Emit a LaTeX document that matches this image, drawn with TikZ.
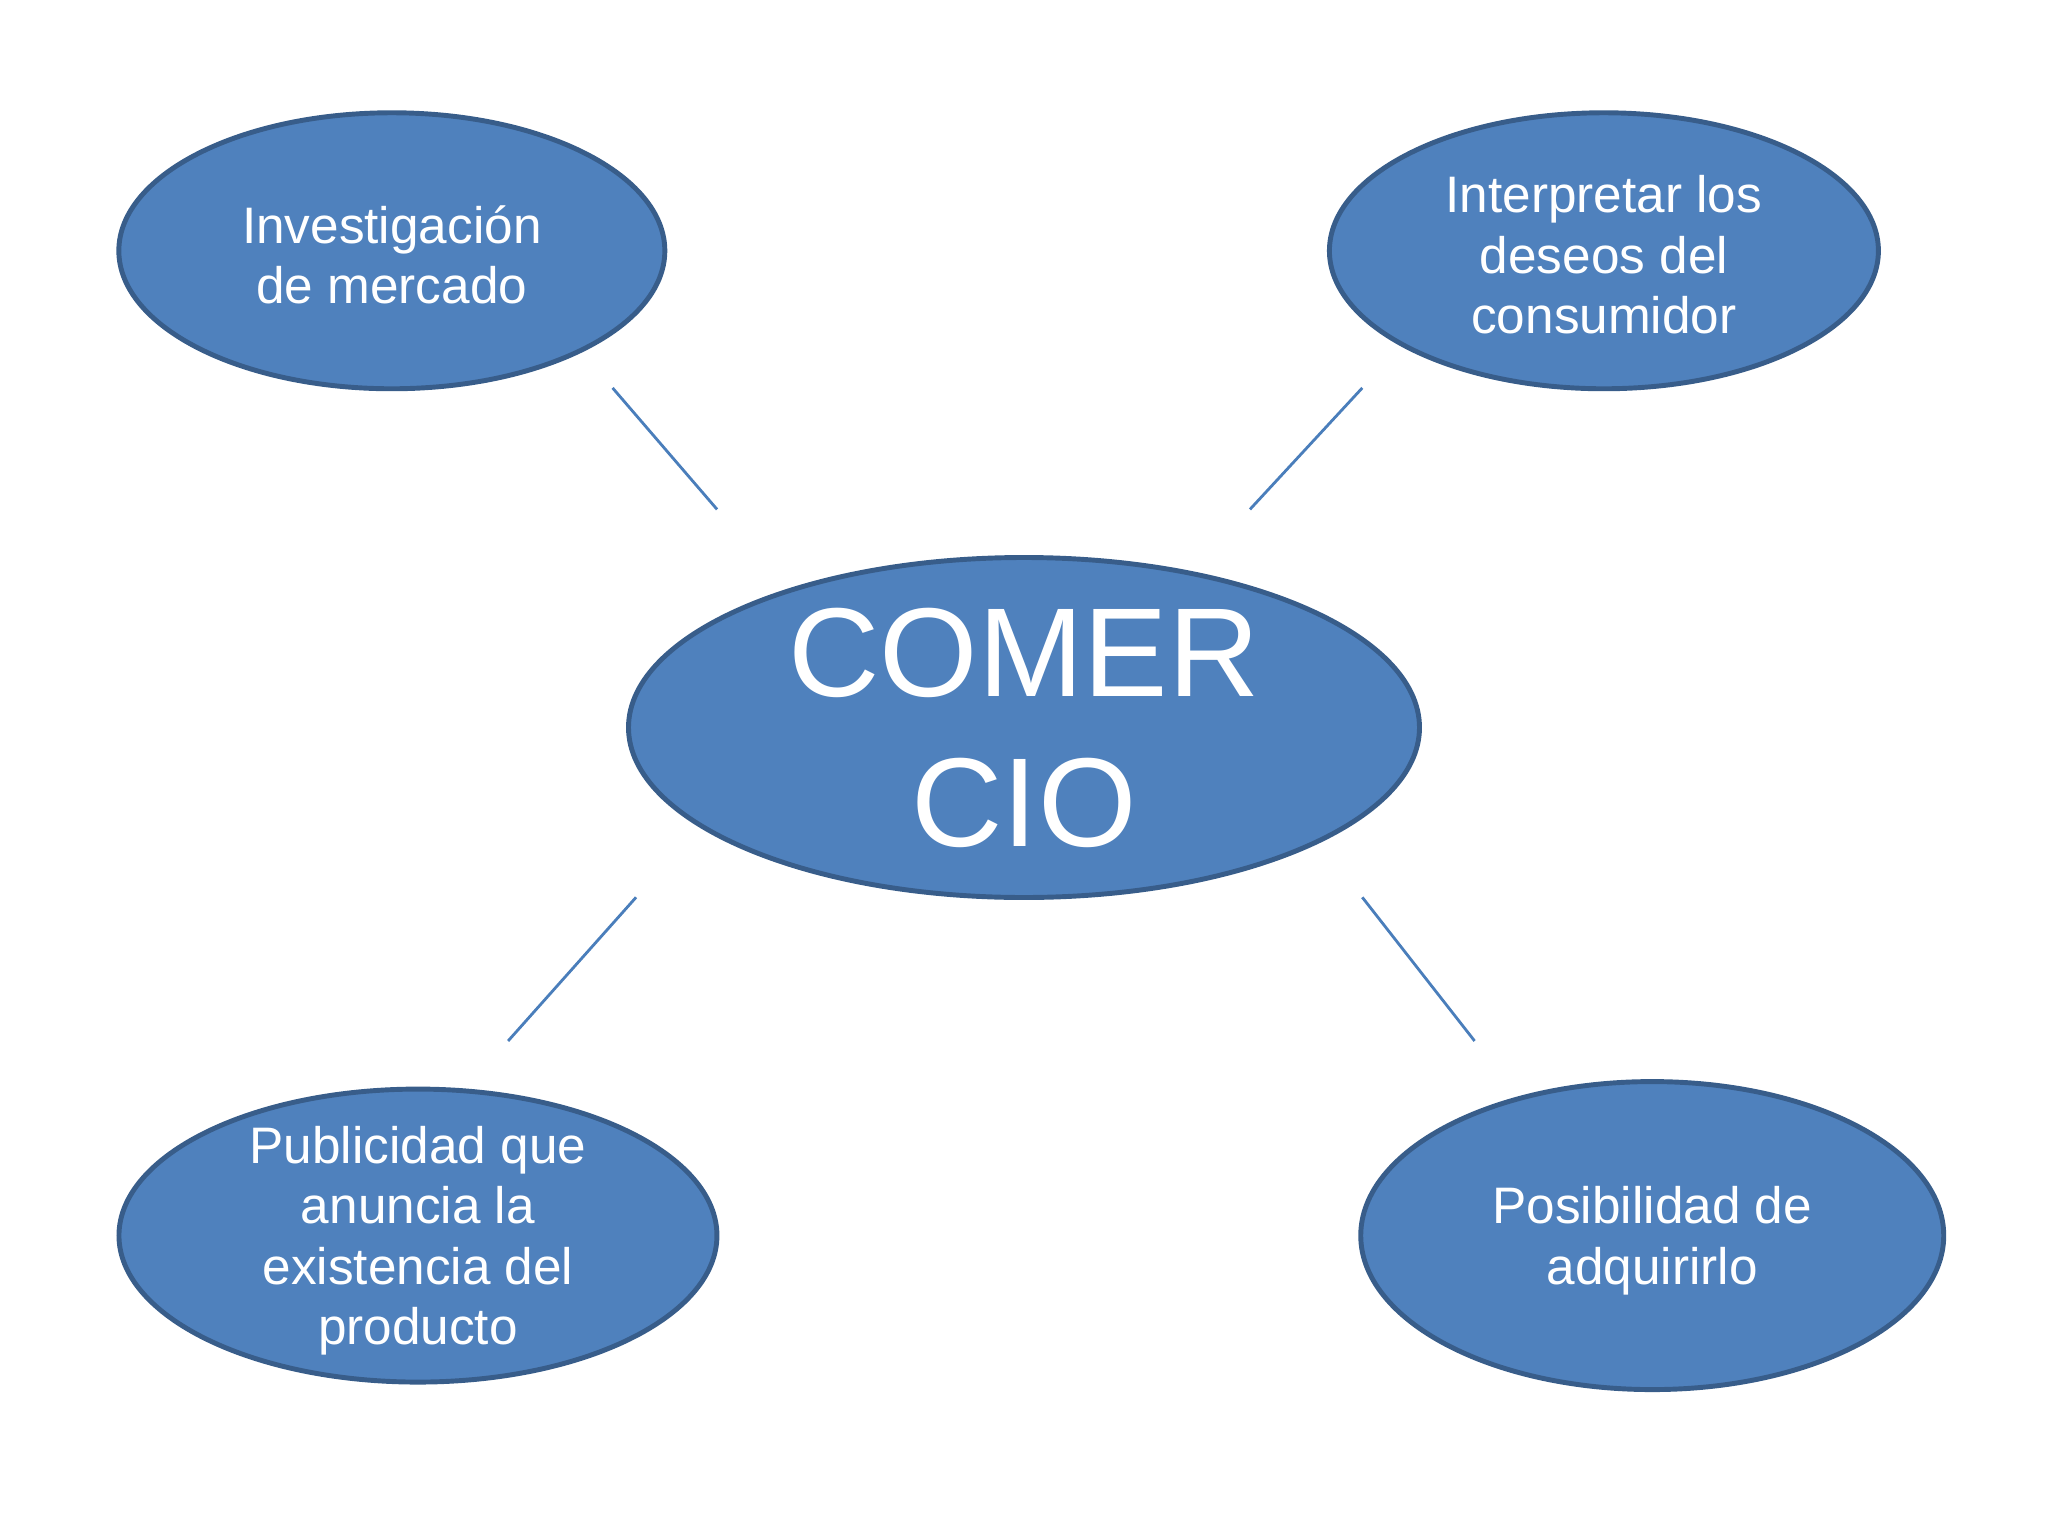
\documentclass[tikz,border=0pt]{standalone}
\usepackage{fontspec}
\setmainfont{Liberation Sans}
\usetikzlibrary{shapes.geometric}
\definecolor{bubblefill}{HTML}{4F81BD}
\definecolor{bubbleedge}{HTML}{385D8A}
\definecolor{linkblue}{HTML}{4A7EBB}

\begin{document}
\begin{tikzpicture}[x=0.013061cm,y=-0.013061cm,
  bubble/.style={ellipse,draw=bubbleedge,fill=bubblefill,line width=1.4pt,inner sep=0pt},
  bubbletext/.style={text=white,align=center,font=\fontsize{14.6}{17.2}\selectfont},
  bigtext/.style={text=white,align=center,font=\fontsize{36}{42.7}\selectfont},
  link/.style={draw=linkblue,line width=0.8pt}]
  \useasboundingbox (0,0) rectangle (1568,1176);
  % ovals
  \node[bubble,minimum width=5.46cm,minimum height=2.76cm] (inv) at (300,192) {};
  \node[bubble,minimum width=5.49cm,minimum height=2.76cm] (des) at (1228,192) {};
  \node[bubble,minimum width=7.91cm,minimum height=3.40cm] (com) at (784,557) {};
  \node[bubble,minimum width=5.98cm,minimum height=2.93cm] (pub) at (320,946) {};
  \node[bubble,minimum width=5.83cm,minimum height=3.08cm] (pos) at (1265,946) {};
  % labels
  \node[bubbletext] (inv-t) at (300,195) {Investigación\\de mercado};
  \node[bubbletext] (des-t) at (1228,195) {Interpretar los\\deseos del\\consumidor};
  \node[bigtext] (com-t) at (784,557) {COMER\\CIO};
  \node[bubbletext] (pub-t) at (320,950) {Publicidad que\\anuncia la\\existencia del\\producto};
  \node[bubbletext] (pos-t) at (1265,950) {Posibilidad de\\adquirirlo};
  % free-standing strokes
  \coordinate (a1) at (469,297); \coordinate (a2) at (549,390);
  \coordinate (b1) at (1043,297); \coordinate (b2) at (957,390);
  \coordinate (c1) at (487,687); \coordinate (c2) at (389,797);
  \coordinate (d1) at (1043,687); \coordinate (d2) at (1129,797);
  \draw[link] (a1) -- (a2);
  \draw[link] (b1) -- (b2);
  \draw[link] (c1) -- (c2);
  \draw[link] (d1) -- (d2);
\end{tikzpicture}
\end{document}
